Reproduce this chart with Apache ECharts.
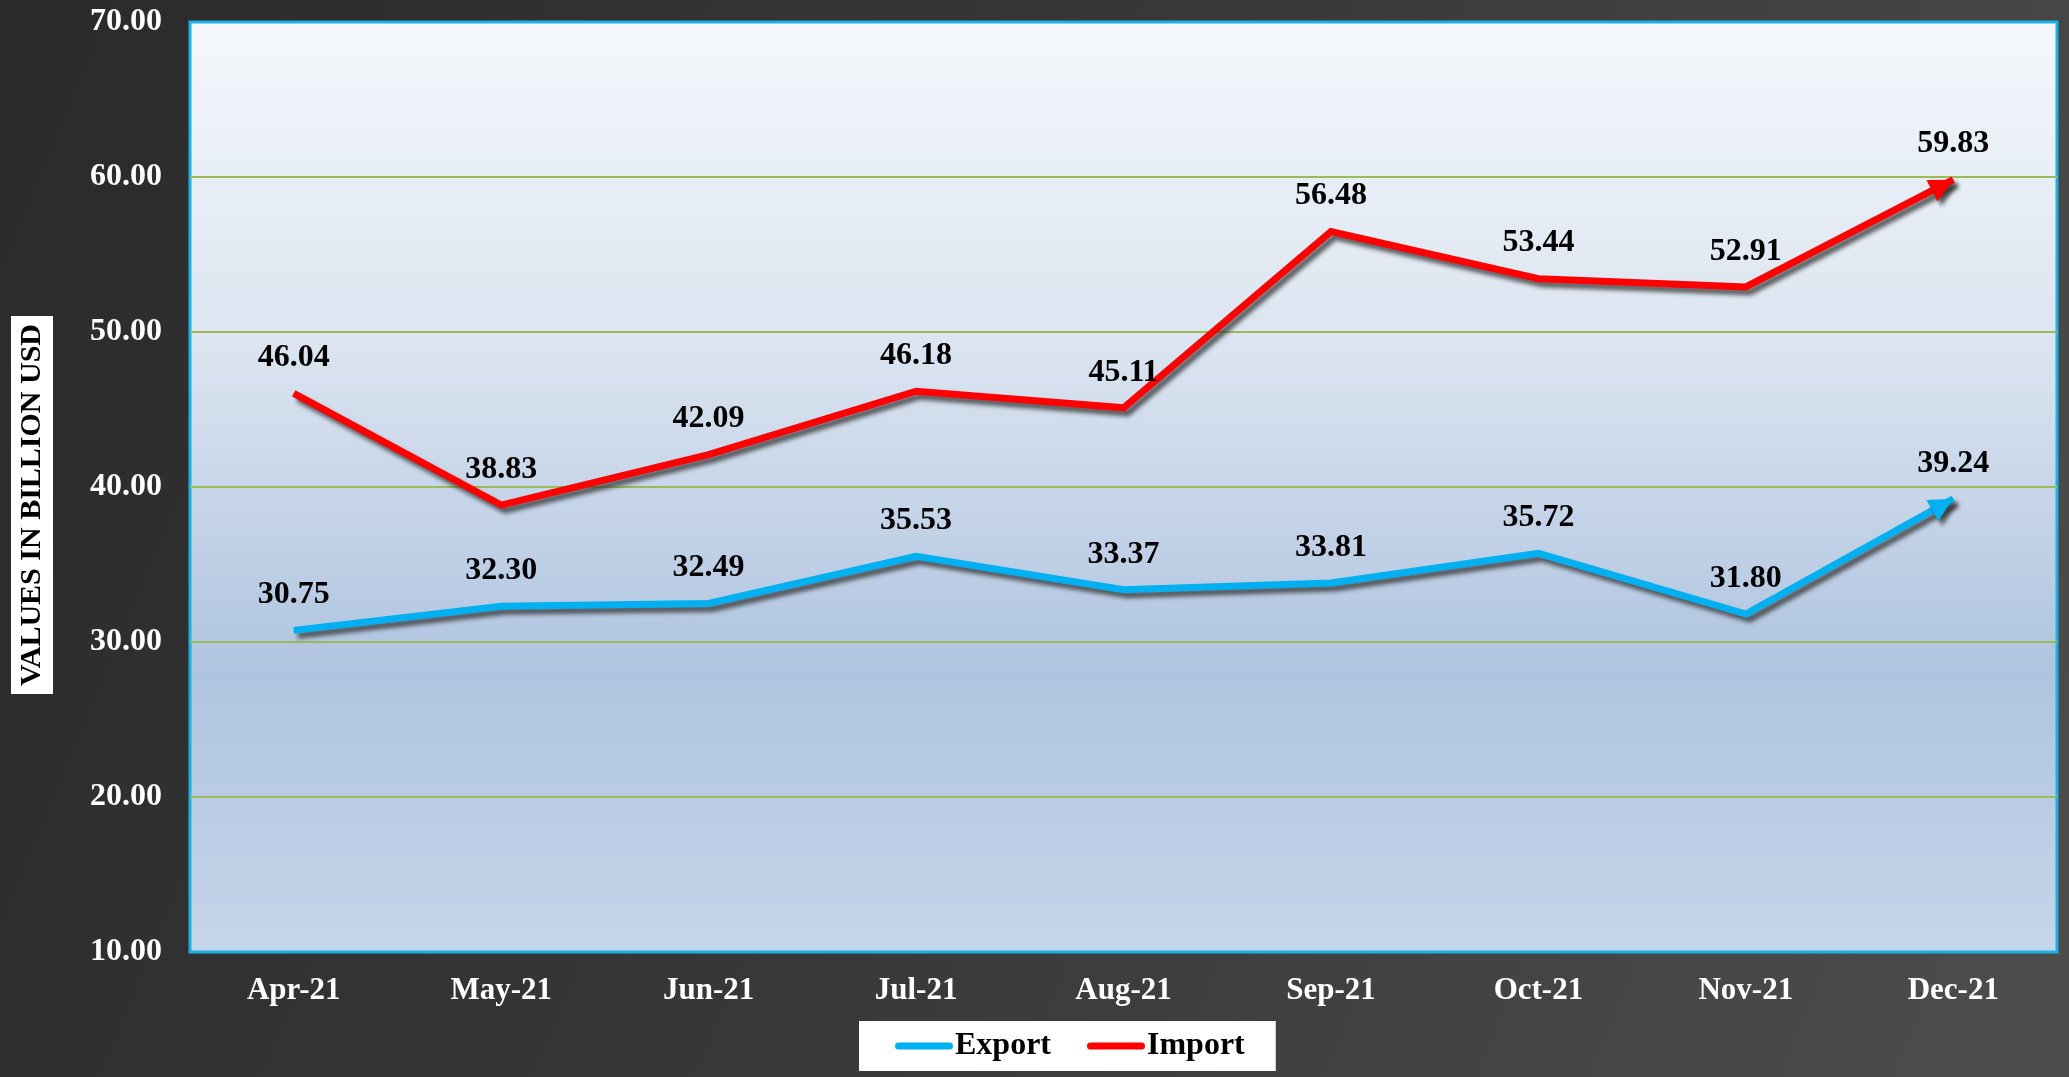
<!DOCTYPE html>
<html>
<head>
<meta charset="utf-8">
<script src="https://cdn.jsdelivr.net/npm/echarts@6/dist/echarts.min.js"></script>
<style>
html,body{margin:0;padding:0;background:#333;}
#chart{width:2069px;height:1077px;}
</style>
</head>
<body>
<div id="chart"></div>
<script>
var categories = ['Apr-21','May-21','Jun-21','Jul-21','Aug-21','Sep-21','Oct-21','Nov-21','Dec-21'];
var exportValues = [30.75, 32.30, 32.49, 35.53, 33.37, 33.81, 35.72, 31.80, 39.24];
var importValues = [46.04, 38.83, 42.09, 46.18, 45.11, 56.48, 53.44, 52.91, 59.83];
var yMin = 10, yMax = 70, yInterval = 10;
var axisTitle = 'VALUES IN BILLION USD';

var FONT = '"Liberation Serif","Times New Roman",serif';
var SHADOW = { shadowColor: 'rgba(45,45,45,0.75)', shadowBlur: 4, shadowOffsetX: 4, shadowOffsetY: 5 };
var chart = echarts.init(document.getElementById('chart'));

function lineSeries(name, data, color) {
  return {
    name: name,
    type: 'line',
    data: data,
    symbol: 'circle',
    symbolSize: 1,
    showSymbol: true,
    z: name === 'Import' ? 4 : 3,
    lineStyle: Object.assign({ color: color, width: 7, cap: 'butt', join: 'miter' }, SHADOW),
    itemStyle: { color: color },
    label: {
      show: true, position: 'top', distance: 19,
      formatter: function (p) { return p.value.toFixed(2); },
      color: '#000', fontFamily: FONT, fontWeight: 'bold', fontSize: 32
    }
  };
}

// arrowhead at the end of each line, oriented along the last segment
function arrowSeries(name, data, color) {
  var n = data.length;
  return {
    name: name + ' arrow',
    type: 'custom',
    z: 6,
    silent: true,
    data: [[n - 2, data[n - 2], n - 1, data[n - 1]]],
    renderItem: function (params, api) {
      var p0 = api.coord([api.value(0), api.value(1)]);
      var p1 = api.coord([api.value(2), api.value(3)]);
      var dx = p1[0] - p0[0], dy = p1[1] - p0[1];
      var len = Math.sqrt(dx * dx + dy * dy) || 1;
      var ux = dx / len, uy = dy / len;
      var nx = -uy, ny = ux;
      var L = 24, W = 12;
      var bx = p1[0] - ux * L, by = p1[1] - uy * L;
      return {
        type: 'polygon',
        shape: { points: [[p1[0], p1[1]], [bx + nx * W, by + ny * W], [bx - nx * W, by - ny * W]] },
        style: Object.assign({ fill: color }, SHADOW)
      };
    }
  };
}

var splitColors = [];
for (var v = yMin; v <= yMax; v += yInterval) {
  splitColors.push(v === yMin || v === yMax ? 'rgba(0,0,0,0)' : '#9bbb59');
}

chart.setOption({
  animation: false,
  backgroundColor: {
    type: 'linear', x: 0, y: 0, x2: 1, y2: 0.8,
    colorStops: [
      { offset: 0, color: '#2a2a2a' },
      { offset: 0.5, color: '#383838' },
      { offset: 1, color: '#4c4c4c' }
    ]
  },
  grid: {
    left: 190, right: 12, top: 22, bottom: 125,
    show: true,
    borderColor: '#1cb0e4', borderWidth: 3,
    backgroundColor: {
      type: 'linear', x: 0, y: 0, x2: 0, y2: 1,
      colorStops: [
        { offset: 0, color: '#f5f8fc' },
        { offset: 0.35, color: '#dbe4f0' },
        { offset: 0.7, color: '#afc4e0' },
        { offset: 1, color: '#c6d6ea' }
      ]
    }
  },
  legend: {
    data: ['Export', 'Import'],
    left: 859, top: 1021,
    backgroundColor: '#ffffff',
    padding: [9, 31, 9, 36],
    itemGap: 36,
    itemWidth: 58, itemHeight: 7,
    icon: 'path://M3.5,0 L54.5,0 A3.5,3.5 0 0 1 54.5,7 L3.5,7 A3.5,3.5 0 0 1 3.5,0 Z',
    textStyle: { color: '#000', fontFamily: FONT, fontWeight: 'bold', fontSize: 32, padding: [0, 0, 0, -3] }
  },
  xAxis: {
    type: 'category',
    data: categories,
    boundaryGap: true,
    axisLine: { show: false },
    axisTick: { show: false },
    axisLabel: { color: '#fff', fontFamily: FONT, fontWeight: 'bold', fontSize: 31, margin: 23 }
  },
  yAxis: {
    type: 'value',
    min: yMin, max: yMax, interval: yInterval,
    axisLine: { show: false },
    axisTick: { show: false },
    splitLine: { show: true, lineStyle: { color: splitColors, width: 2 } },
    axisLabel: {
      color: '#fff', fontFamily: FONT, fontWeight: 'bold', fontSize: 32, margin: 28,
      formatter: function (val) { return val.toFixed(2); }
    }
  },
  graphic: [{
    type: 'text',
    x: 32, y: 505,
    rotation: Math.PI / 2,
    style: {
      text: axisTitle,
      fill: '#000',
      font: 'bold 30px ' + FONT,
      align: 'center', verticalAlign: 'middle',
      backgroundColor: '#ffffff',
      padding: [6, 8, 6, 8]
    }
  }],
  series: [
    lineSeries('Export', exportValues, '#00b0f0'),
    lineSeries('Import', importValues, '#ff0000'),
    arrowSeries('Export', exportValues, '#00b0f0'),
    arrowSeries('Import', importValues, '#ff0000')
  ]
});
</script>
</body>
</html>
